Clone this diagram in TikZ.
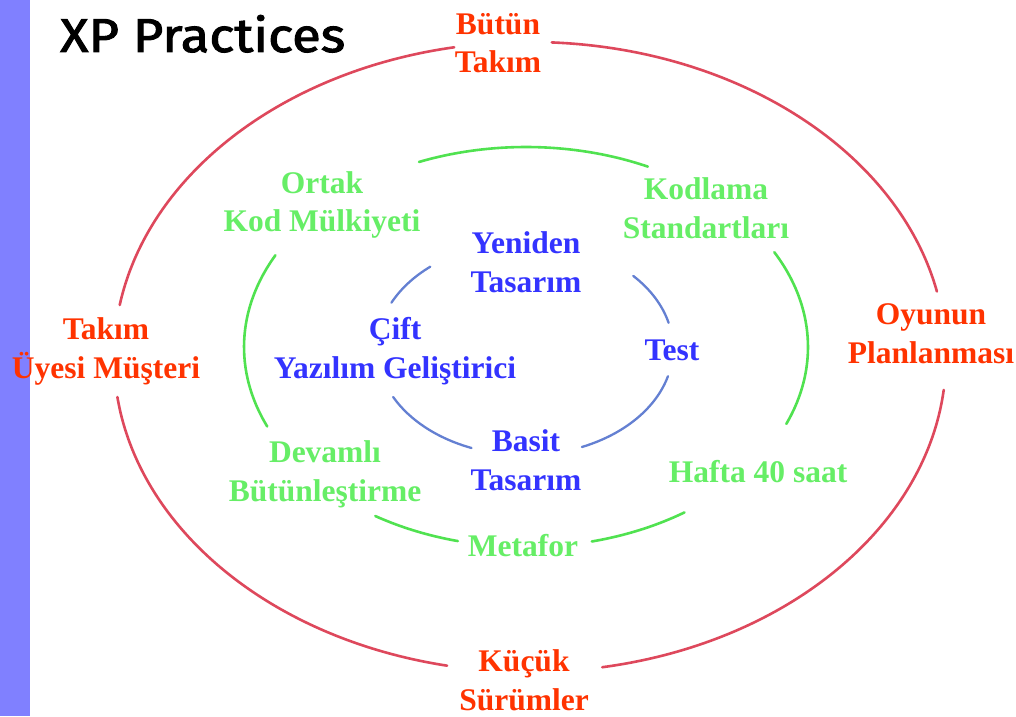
\documentclass[tikz,border=0pt]{standalone}
\usepackage{fontspec}
\usepackage{graphicx}
\setmainfont{Liberation Serif}
\newfontfamily\titlefont[FakeBold=2]{Fira Sans}
\usetikzlibrary{calc}

\definecolor{sidebar}{RGB}{128,128,255}
\definecolor{outertext}{RGB}{255,51,0}
\definecolor{middletext}{RGB}{102,238,102}
\definecolor{innertext}{RGB}{51,51,255}
\definecolor{outerring}{RGB}{222,72,92}
\definecolor{middlering}{RGB}{80,226,80}
\definecolor{innerring}{RGB}{100,128,210}

\begin{document}
\begin{tikzpicture}[x=1pt,y=1pt,
  lbl/.style={align=center, anchor=base, inner sep=0pt,
    font=\fontsize{31.5}{38.5}\selectfont\bfseries},
  outerlbl/.style={lbl, text=outertext},
  middlelbl/.style={lbl, text=middletext},
  innerlbl/.style={lbl, text=innertext},
  ring/.style={line width=2.6pt, line cap=round},
  outerarc/.style={ring, draw=outerring},
  middlearc/.style={ring, draw=middlering},
  innerarc/.style={ring, draw=innerring, line width=2.3pt}]

\useasboundingbox (0,0) rectangle (1016,716);
\fill[white] (0,0) rectangle (1016,716);
\fill[sidebar] (0,0) rectangle (30,716);

% title
\node[anchor=base west, inner sep=0pt] (title) at (60,664)
  {\resizebox{285pt}{37pt}{\titlefont\fontsize{40}{40}\selectfont XP Practices}};

% ring centres
\coordinate (rc) at (530,359);
\coordinate (gc) at (526,369);
\coordinate (bc) at (525,367.4);

% outer ring
\draw[outerarc] ($(rc)+(100.5:416pt and 315pt)$) arc[start angle=100.5, end angle=170.5, x radius=416pt, y radius=315pt];
\draw[outerarc] ($(rc)+(187.3:416pt and 315pt)$) arc[start angle=187.3, end angle=258.5, x radius=416pt, y radius=315pt];
\draw[outerarc] ($(rc)+(280:416pt and 315pt)$) arc[start angle=280, end angle=354, x radius=416pt, y radius=315pt];
\draw[outerarc] ($(rc)+(12:416pt and 315pt)$) arc[start angle=12, end angle=87, x radius=416pt, y radius=315pt];

% middle ring
\draw[middlearc] ($(gc)+(64.4:282pt and 200pt)$) arc[start angle=64.4, end angle=112.3, x radius=282pt, y radius=200pt];
\draw[middlearc] ($(gc)+(152.7:282pt and 200pt)$) arc[start angle=152.7, end angle=203.4, x radius=282pt, y radius=200pt];
\draw[middlearc] ($(gc)+(237.7:282pt and 200pt)$) arc[start angle=237.7, end angle=256, x radius=282pt, y radius=200pt];
\draw[middlearc] ($(gc)+(283.5:282pt and 200pt)$) arc[start angle=283.5, end angle=304.2, x radius=282pt, y radius=200pt];
\draw[middlearc] ($(gc)+(-22.6:282pt and 200pt)$) arc[start angle=-22.6, end angle=28.3, x radius=282pt, y radius=200pt];

% inner ring
\draw[innerarc] ($(bc)+(129.8:148pt and 106.6pt)$) arc[start angle=129.8, end angle=154.5, x radius=148pt, y radius=106.6pt];
\draw[innerarc] ($(bc)+(14:148pt and 106.6pt)$) arc[start angle=14, end angle=43, x radius=148pt, y radius=106.6pt];
\draw[innerarc] ($(bc)+(-67.4:148pt and 106.6pt)$) arc[start angle=-67.4, end angle=-15, x radius=148pt, y radius=106.6pt];
\draw[innerarc] ($(bc)+(207:148pt and 106.6pt)$) arc[start angle=207, end angle=248.8, x radius=148pt, y radius=106.6pt];

% outer practices (anchored at the baseline of the last line)
\node[outerlbl] (butun) at (498,643) {Bütün\\Takım};
\node[outerlbl] (musteri) at (106,338) {Takım\\Üyesi Müşteri};
\node[outerlbl] (oyun) at (931,353) {Oyunun\\Planlanması};
\node[outerlbl] (surum) at (524,6) {Küçük\\Sürümler};

% middle practices
\node[middlelbl] (ortak) at (322,484) {Ortak\\Kod Mülkiyeti};
\node[middlelbl] (kodlama) at (706,478) {Kodlama\\Standartları};
\node[middlelbl] (devamli) at (325,215) {Devamlı\\Bütünleştirme};
\node[middlelbl] (metafor) at (523,160) {Metafor};
\node[middlelbl] (hafta) at (758,234) {Hafta 40 saat};

% inner practices
\node[innerlbl] (yeniden) at (526,424) {Yeniden\\Tasarım};
\node[innerlbl] (cift) at (395,338) {Çift\\Yazılım Geliştirici};
\node[innerlbl] (test) at (672,356) {Test};
\node[innerlbl] (basit) at (526,226) {Basit\\Tasarım};
\end{tikzpicture}
\end{document}
